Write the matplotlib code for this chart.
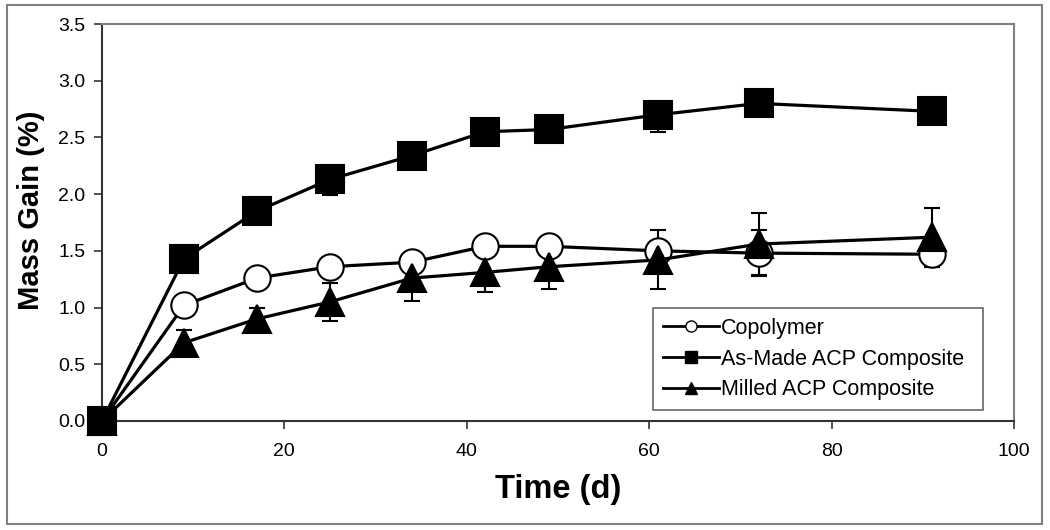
import matplotlib
matplotlib.use("Agg")
import matplotlib.pyplot as plt
from matplotlib.lines import Line2D
from matplotlib.patches import Rectangle

plt.rcParams['font.family'] = ['Liberation Sans', 'DejaVu Sans']

days = [0, 9, 17, 25, 34, 42, 49, 61, 72, 91]
copolymer = [0.0, 1.02, 1.26, 1.36, 1.40, 1.54, 1.54, 1.50, 1.48, 1.47]
copolymer_err = [0.0, 0.04, 0.04, 0.04, 0.05, 0.05, 0.05, 0.06, 0.20, 0.11]
as_made = [0.0, 1.43, 1.85, 2.13, 2.34, 2.55, 2.57, 2.70, 2.80, 2.73]
as_made_err_low = [0.0, 0.05, 0.05, 0.14, 0.10, 0.05, 0.05, 0.15, 0.05, 0.05]
as_made_err_high = [0.0, 0.05, 0.05, 0.08, 0.08, 0.05, 0.05, 0.08, 0.05, 0.05]
milled = [0.0, 0.69, 0.90, 1.05, 1.26, 1.31, 1.36, 1.42, 1.56, 1.62]
milled_err = [0.0, 0.11, 0.10, 0.17, 0.20, 0.17, 0.20, 0.26, 0.27, 0.26]

labels = ["Copolymer", "As-Made ACP Composite", "Milled ACP Composite"]
x_ticks = [0, 20, 40, 60, 80, 100]
y_ticks = [0.0, 0.5, 1.0, 1.5, 2.0, 2.5, 3.0, 3.5]

fig = plt.figure(figsize=(10.5, 5.3), dpi=100)
ax = fig.add_axes([0.0971, 0.2057, 0.8686, 0.7490])

# outer border
fig.patches.append(Rectangle((0.0067, 0.0113), 0.9857, 0.9793, transform=fig.transFigure,
                             fill=False, edgecolor='#808080', linewidth=1.5))

series = [
    (copolymer, [copolymer_err, copolymer_err],
     dict(marker='o', markersize=19, markerfacecolor='white')),
    (as_made, [as_made_err_low, as_made_err_high],
     dict(marker='s', markersize=19.5, markerfacecolor='black')),
    (milled, [milled_err, milled_err],
     dict(marker='^', markersize=20, markerfacecolor='black')),
]
for i, (vals, errs, mk) in enumerate(series):
    ax.errorbar(days, vals, yerr=errs, fmt='none', ecolor='black', elinewidth=1.5,
                capsize=5.5, capthick=1.5, zorder=2, clip_on=False)
    ax.plot(days, vals, color='black', linewidth=2.3, markeredgecolor='black',
            markeredgewidth=1.5, zorder=3 + i, clip_on=False, **mk)

ax.set_xlim(0, 100)
ax.set_ylim(0, 3.5)
ax.set_xticks(x_ticks)
ax.set_yticks(y_ticks)
ax.set_yticklabels([f"{v:.1f}" for v in y_ticks])
ax.tick_params(axis='both', direction='out', length=6, width=1.2, labelsize=14,
               colors='#333333', labelcolor='black', pad=6)
ax.tick_params(axis='x', pad=10)

for s in ['top', 'right']:
    ax.spines[s].set_color('#808080')
    ax.spines[s].set_linewidth(1.5)
for s in ['left', 'bottom']:
    ax.spines[s].set_color('#333333')
    ax.spines[s].set_linewidth(1.5)

ax.set_xlabel("Time (d)", fontsize=23.5, fontweight='bold', labelpad=10)
ax.set_ylabel("Mass Gain (%)", fontsize=21, fontweight='bold')
ax.yaxis.set_label_coords(-0.0625, 0.53)

handles = [
    Line2D([0], [0], color='black', linewidth=2, marker='o', markersize=8,
           markerfacecolor='white', markeredgecolor='black'),
    Line2D([0], [0], color='black', linewidth=2, marker='s', markersize=8,
           markerfacecolor='black', markeredgecolor='black'),
    Line2D([0], [0], color='black', linewidth=2, marker='^', markersize=9,
           markerfacecolor='black', markeredgecolor='black'),
]
leg = fig.legend(handles, labels, loc='lower left',
                 bbox_to_anchor=(0.622, 0.2264, 0.314, 0.198), mode='expand',
                 fontsize=15.5, frameon=True, fancybox=False, edgecolor='#404040',
                 handlelength=2.6, handletextpad=0.1, labelspacing=0.45,
                 borderpad=0.45, borderaxespad=0)
leg.get_frame().set_linewidth(1.2)
leg.set_zorder(10)

fig.savefig("out.png", dpi=100)
